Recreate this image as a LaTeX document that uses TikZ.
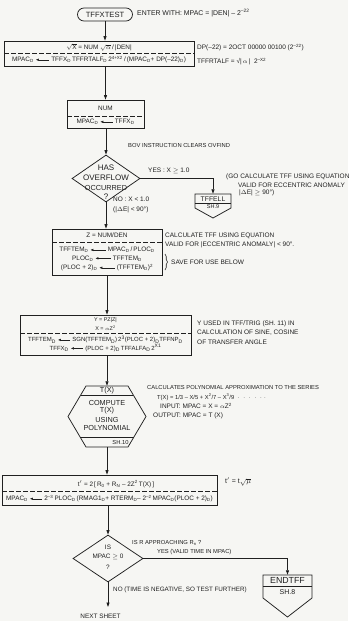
\documentclass[tikz,border=0pt]{standalone}
\usepackage{fontspec}
\setmainfont{Liberation Sans}
\usetikzlibrary{arrows.meta,shapes.geometric,decorations.pathreplacing}

\definecolor{ink}{RGB}{32,32,32}
\definecolor{paper}{RGB}{246,246,243}

\newcommand{\sD}{\textsubscript{D}}
\newcommand{\up}[1]{\textsuperscript{#1}}
% assignment arrow used inside the boxes
\newcommand{\lar}[1][12pt]{\hspace{2pt}\tikz[baseline=-1.9pt]\draw[draw=ink,line width=0.5pt,-{Triangle[length=2.8pt,width=2.2pt]}] (#1,0) -- (0,0);\hspace{2pt}}

\begin{document}
\begin{tikzpicture}[x=1pt,y=-1pt,
  every node/.style={text=ink, inner sep=0pt},
  line/.style={draw=ink, line width=0.75pt},
  arr/.style={line, -{Triangle[length=4.5pt,width=3pt]}},
  box/.style={line, rectangle, inner sep=0pt},
  sep/.style={draw=ink, line width=0.6pt, dash pattern=on 4.5pt off 2.5pt},
  fb/.style={font=\fontsize{6.4}{7}\selectfont},
  fbs/.style={font=\fontsize{5.4}{6}\selectfont},
  fn/.style={font=\fontsize{5.8}{6.5}\selectfont},
  fm/.style={font=\fontsize{6.5}{7.5}\selectfont},
  fh/.style={font=\fontsize{7.3}{8}\selectfont},
  fd/.style={font=\fontsize{8}{9}\selectfont},
  note/.style={fn, anchor=west},
  notem/.style={fm, anchor=west},
]
\fill[paper] (0,0) rectangle (348,621);
\useasboundingbox (0,0) rectangle (348,621);

% entry terminal
\node[line, rounded corners=6.5pt, minimum width=55pt, minimum height=13pt, font=\fontsize{7.6}{8}\selectfont] (start) at (105,14.5) {TFFXTEST};
\node[font=\fontsize{6.9}{7.5}\selectfont, anchor=west] (enter) at (137,13.5) {ENTER WITH: MPAC = |DEN| -- 2\up{--22}};

% first computation box
\node[box, minimum width=190pt, minimum height=25pt] (b1) at (99,53.5) {};
\draw[sep] (4,53) -- (194,53);
\node[fb] (b1t) at (99,47.5) {$\sqrt{\mathrm{X}}$ = NUM $\sqrt{\alpha}$\,/\,|DEN|};
\node[fb] (b1b) at (99,59.5) {MPAC\sD\lar[13pt]TFFX\sD\,TFFRTALF\sD\,2\up{4+X2}\,/\,(MPAC\sD + DP(--22)\sD)};
\node[notem] (dp) at (197,47.5) {DP(--22) = 2OCT 00000 00100 (2\up{--22})};
\node[notem] (rt) at (197,61.5) {TFFRTALF = √|\,$\alpha$\,|\ \ 2\up{--X2}};

% NUM box
\node[box, minimum width=77pt, minimum height=28pt] (b2) at (105.5,114) {};
\draw[sep] (67,116) -- (144,116);
\node[fb] (b2t) at (105.5,108.5) {NUM};
\node[fb] (b2b) at (105.5,122) {MPAC\sD\lar[12pt]TFFX\sD};
\node[note] (bov) at (128,146) {BOV INSTRUCTION CLEARS OVFIND};

% overflow test
\node[line, diamond, minimum width=68pt, minimum height=47pt, inner sep=0pt] (d1) at (106,178.5) {};
\node[fd] at (106,168) {HAS};
\node[fd] at (106,177.5) {OVERFLOW};
\node[fh] at (106,188) {OCCURRED};
\node[fd] at (106,197) {?};
\node[fm, anchor=west] (yes1) at (148,171) {YES : X $\geq$ 1.0};
\node[fm, anchor=west] at (226,177) {(GO CALCULATE TFF USING EQUATION};
\node[fm, anchor=west] at (238,185) {VALID FOR ECCENTRIC ANOMALY};
\node[fm, anchor=west] at (239,193) {|$\Delta$E| $\geq$ 90°)};
\node[fm, anchor=west] at (113,199) {NO : X < 1.0};
\node[fm, anchor=west] at (113,210) {(|$\Delta$E| < 90°)};

% off-page connector TFFELL
\node[minimum width=36pt, minimum height=24pt] (ell) at (213,206) {};
\draw[line] (195,194) -- (231,194) -- (231,208) -- (213,218) -- (195,208) -- cycle;
\draw[line] (195,203) -- (231,203);
\node[font=\fontsize{6.8}{7}\selectfont] at (213,198.7) {TFFELL};
\node[font=\fontsize{5.5}{6}\selectfont] at (213,206.5) {SH.9};

% Z box
\node[box, minimum width=110pt, minimum height=46pt] (b3) at (107,252) {};
\draw[sep] (52,242) -- (162,242);
\node[fb] at (107,235) {Z = NUM/DEN};
\node[fb] at (107,250) {TFFTEM\sD\lar[15pt]MPAC\sD\,/\,PLOC\sD};
\node[fb] at (107,258.5) {PLOC\sD\lar[15pt]TFFTEM\sD};
\node[fb] at (107,267.5) {(PLOC + 2)\sD\lar[15pt](TFFTEM\sD)\up{2}};
\node[fm, anchor=west] at (165,236) {CALCULATE TFF USING EQUATION};
\node[fm, anchor=west] at (165,245) {VALID FOR |ECCENTRIC ANOMALY| < 90°.};
\draw[line, line width=0.6pt, decorate, decoration={brace, amplitude=2.5pt}] (165,254) -- (165,270);
\node[fm, anchor=west] at (171,262) {SAVE FOR USE BELOW};

% Y box
\node[box, minimum width=171pt, minimum height=40pt] (b4) at (105.5,335) {};
\draw[sep] (20,333) -- (191,333);
\node[fbs] at (105.5,320.5) {Y = PZ|Z|};
\node[fbs] at (105.5,327.8) {X = $\alpha$Z\up{2}};
\node[font=\fontsize{6}{6.5}\selectfont] at (105.5,339.5) {TFFTEM\sD\lar[12pt]SGN(TFFTEM\sD)\,2\up{3}(PLOC + 2)\sD TFFNP\sD};
\node[font=\fontsize{6}{6.5}\selectfont] at (105.5,348) {TFFX\sD\lar[12pt](PLOC + 2)\sD\,TFFALFA\sD\,2\up{X1}};
\node[notem] at (197,324) {Y USED IN TFF/TRIG (SH. 11) IN};
\node[notem] at (197,333) {CALCULATION OF SINE, COSINE};
\node[notem] at (197,342) {OF TRANSFER ANGLE};

% predefined process T(X)
\node[minimum width=78pt, minimum height=61pt] (hex) at (107,416.5) {};
\draw[line] (86,386) -- (128,386) -- (146,416.5) -- (128,447) -- (86,447) -- (68,416.5) -- cycle;
\draw[line] (80.7,395) -- (133.3,395);
\draw[line] (80.1,437) -- (133.9,437);
\node[fh] at (107,390.7) {T(X)};
\node[fh] at (107,403) {COMPUTE};
\node[fh] at (107,411) {T(X)};
\node[fh] at (107,419.5) {USING};
\node[fh] at (107,428) {POLYNOMIAL};
\node[font=\fontsize{5.8}{6}\selectfont] at (120.5,442) {SH.10};
\node[note] at (147,387) {CALCULATES POLYNOMIAL APPROXIMATION TO THE SERIES};
\node[note] at (157,397) {T(X) = 1/3 -- X/5 + X\up{2}/7 -- X\up{3}/9 \ $\cdot\ \cdot\ \cdot\ \cdot\ \cdot\ \cdot$};
\node[notem] at (160,406) {INPUT: MPAC = X = $\alpha$Z\up{2}};
\node[notem] at (153,416) {OUTPUT: MPAC = T (X)};

% t' box
\node[box, minimum width=215pt, minimum height=30pt] (b5) at (109.5,490) {};
\draw[sep] (2,491) -- (217,491);
\node[fb] at (116,484) {t$'$ = 2\,[\,R\textsubscript{0} + R\textsubscript{N} -- 2Z\up{2}\,T(X)\,]};
\node[fb] at (109.5,498.5) {MPAC\sD\lar[12pt]2\up{--3}\,PLOC\sD\,(RMAG1\sD + RTERM\sD -- 2\up{--2}\,MPAC\sD(PLOC + 2)\sD)};
\node[font=\fontsize{7}{7.5}\selectfont, anchor=west] at (225,482) {t$'$ = t$\sqrt{\mu}$};

% sign test
\node[line, diamond, minimum width=70pt, minimum height=47pt, inner sep=0pt] (d2) at (108,558.5) {};
\node[fb] at (108,547) {IS};
\node[fb] at (108,557) {MPAC $\geq$ 0};
\node[fb] at (108,567) {?};
\node[note] at (132,543) {IS R APPROACHING R\textsubscript{n} ?};
\node[note] at (157,552) {YES (VALID TIME IN MPAC)};
\node[font=\fontsize{6.3}{7}\selectfont, anchor=west] at (113,590) {NO (TIME IS NEGATIVE, SO TEST FURTHER)};

% off-page connector ENDTFF
\node[minimum width=49pt, minimum height=42pt] (end) at (287.5,596) {};
\draw[line] (263,575) -- (312,575) -- (312,598) -- (287.5,617) -- (263,598) -- cycle;
\draw[line] (263,586) -- (312,586);
\node[font=\fontsize{8.8}{9}\selectfont] at (287.5,580.7) {ENDTFF};
\node[font=\fontsize{7}{7.5}\selectfont] at (287.5,592) {SH.8};

\coordinate (next) at (108,607);
\node[font=\fontsize{6.4}{7}\selectfont] (nexttxt) at (100.5,616) {NEXT SHEET};

% connectors
\draw[arr] (start.south) -- (start.south |- b1.north);
\draw[arr] (b2.north |- b1.south) -- (b2.north);
\draw[arr] (d1.north |- b2.south) -- (d1.north);
\draw[arr] (d1.east) -| (ell.north);
\draw[arr] (d1.south) -- (d1.south |- b3.north);
\draw[arr] (b3.south) -- (b3.south |- b4.north);
\draw[arr] (hex.north |- b4.south) -- (hex.north);
\draw[arr] (hex.south) -- (hex.south |- b5.north);
\draw[arr] (d2.north |- b5.south) -- (d2.north);
\draw[arr] (d2.east) -| (end.north);
\draw[arr] (d2.south) -- (next);
\end{tikzpicture}
\end{document}
